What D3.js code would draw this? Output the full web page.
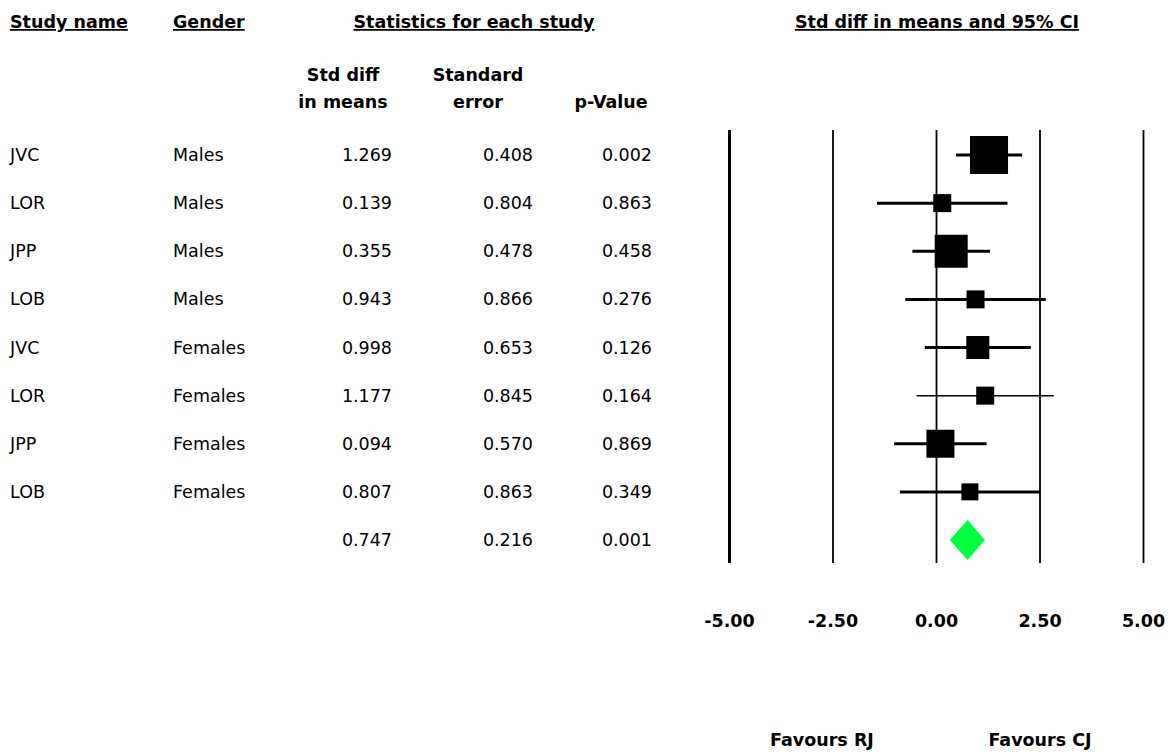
<!DOCTYPE html>
<html><head><meta charset="utf-8">
<script src="https://cdn.jsdelivr.net/npm/d3@7"></script>
<style>body{margin:0;background:#fff}text{font-family:"DejaVu Sans",Verdana,sans-serif;font-size:17.5px}</style>
</head><body><svg id="chart" width="1170" height="752"></svg>
<script>
const studies = ['JVC','LOR','JPP','LOB','JVC','LOR','JPP','LOB'];
const genders = ['Males','Males','Males','Males','Females','Females','Females','Females'];
const effects = [1.269,0.139,0.355,0.943,0.998,1.177,0.094,0.807];
const stdErrs = [0.408,0.804,0.478,0.866,0.653,0.845,0.570,0.863];
const pValues = [0.002,0.863,0.458,0.276,0.126,0.164,0.869,0.349];
const boxSizes = [38,18,33,18,23,18,28,17];
const summary = {effect:0.747, se:0.216, p:0.001};
const ticks = [-5,-2.5,0,2.5,5];

const svg = d3.select('#chart');
const x = d3.scaleLinear().domain([-5,5]).range([729.5,1143.5]);
const y = d3.scaleLinear().domain([0,8]).range([155,540]);

// headers
const heads = [['Study name',10,'start'],['Gender',173,'start'],['Statistics for each study',474,'middle'],['Std diff in means and 95% CI',937,'middle']];
heads.forEach(([t,hx,a]) => {
  svg.append('text').attr('x',hx).attr('y',28).attr('text-anchor',a)
    .style('font-weight','bold').style('text-decoration','underline').text(t);
});
[['Std diff',343,81],['in means',343,108],['Standard',478,81],['error',478,108],['p-Value',611,108]].forEach(([t,hx,hy]) => {
  svg.append('text').attr('x',hx).attr('y',hy).attr('text-anchor','middle').style('font-weight','bold').text(t);
});

// rows
const rows = svg.selectAll('.row').data(effects).enter().append('g')
  .attr('transform',(d,i)=>`translate(0,${y(i)+6})`);
rows.append('text').attr('x',10).text((d,i)=>studies[i]);
rows.append('text').attr('x',173).text((d,i)=>genders[i]);
rows.append('text').attr('x',392).attr('text-anchor','end').text(d=>d.toFixed(3));
rows.append('text').attr('x',533).attr('text-anchor','end').text((d,i)=>stdErrs[i].toFixed(3));
rows.append('text').attr('x',652).attr('text-anchor','end').text((d,i)=>pValues[i].toFixed(3));
const sr = svg.append('g').attr('transform',`translate(0,${y(8)+6})`);
sr.append('text').attr('x',392).attr('text-anchor','end').text(summary.effect.toFixed(3));
sr.append('text').attr('x',533).attr('text-anchor','end').text(summary.se.toFixed(3));
sr.append('text').attr('x',652).attr('text-anchor','end').text(summary.p.toFixed(3));

// grid lines
svg.selectAll('.vline').data(ticks).enter().append('line')
  .attr('x1',d=>x(d)).attr('x2',d=>x(d)).attr('y1',130).attr('y2',563)
  .attr('stroke','#000').attr('stroke-width',d=>d===-5?3:1.8);

// CIs and boxes
svg.selectAll('.ci').data(effects).enter().append('line')
  .attr('x1',(d,i)=>x(d-1.96*stdErrs[i])).attr('x2',(d,i)=>x(d+1.96*stdErrs[i]))
  .attr('y1',(d,i)=>y(i)).attr('y2',(d,i)=>y(i))
  .attr('stroke','#000').attr('stroke-width',(d,i)=>i===5?1.5:3);
svg.selectAll('.box').data(effects).enter().append('rect')
  .attr('x',(d,i)=>x(d)-boxSizes[i]/2).attr('y',(d,i)=>y(i)-boxSizes[i]/2)
  .attr('width',(d,i)=>boxSizes[i]).attr('height',(d,i)=>boxSizes[i]).attr('fill','#000');

// summary diamond
const lo = summary.effect-1.96*summary.se, hi = summary.effect+1.96*summary.se, cy = y(8);
svg.append('path').attr('fill','#00ff40')
  .attr('d',`M${x(lo)},${cy}L${x(summary.effect)},${cy-20}L${x(hi)},${cy}L${x(summary.effect)},${cy+20}Z`);

// axis labels
svg.selectAll('.tick').data(ticks).enter().append('text')
  .attr('x',d=>x(d)).attr('y',627).attr('text-anchor','middle').style('font-weight','bold')
  .text(d=>d.toFixed(2));
svg.append('text').attr('x',822).attr('y',746).attr('text-anchor','middle').style('font-weight','bold').text('Favours RJ');
svg.append('text').attr('x',1040).attr('y',746).attr('text-anchor','middle').style('font-weight','bold').text('Favours CJ');
</script></body></html>
